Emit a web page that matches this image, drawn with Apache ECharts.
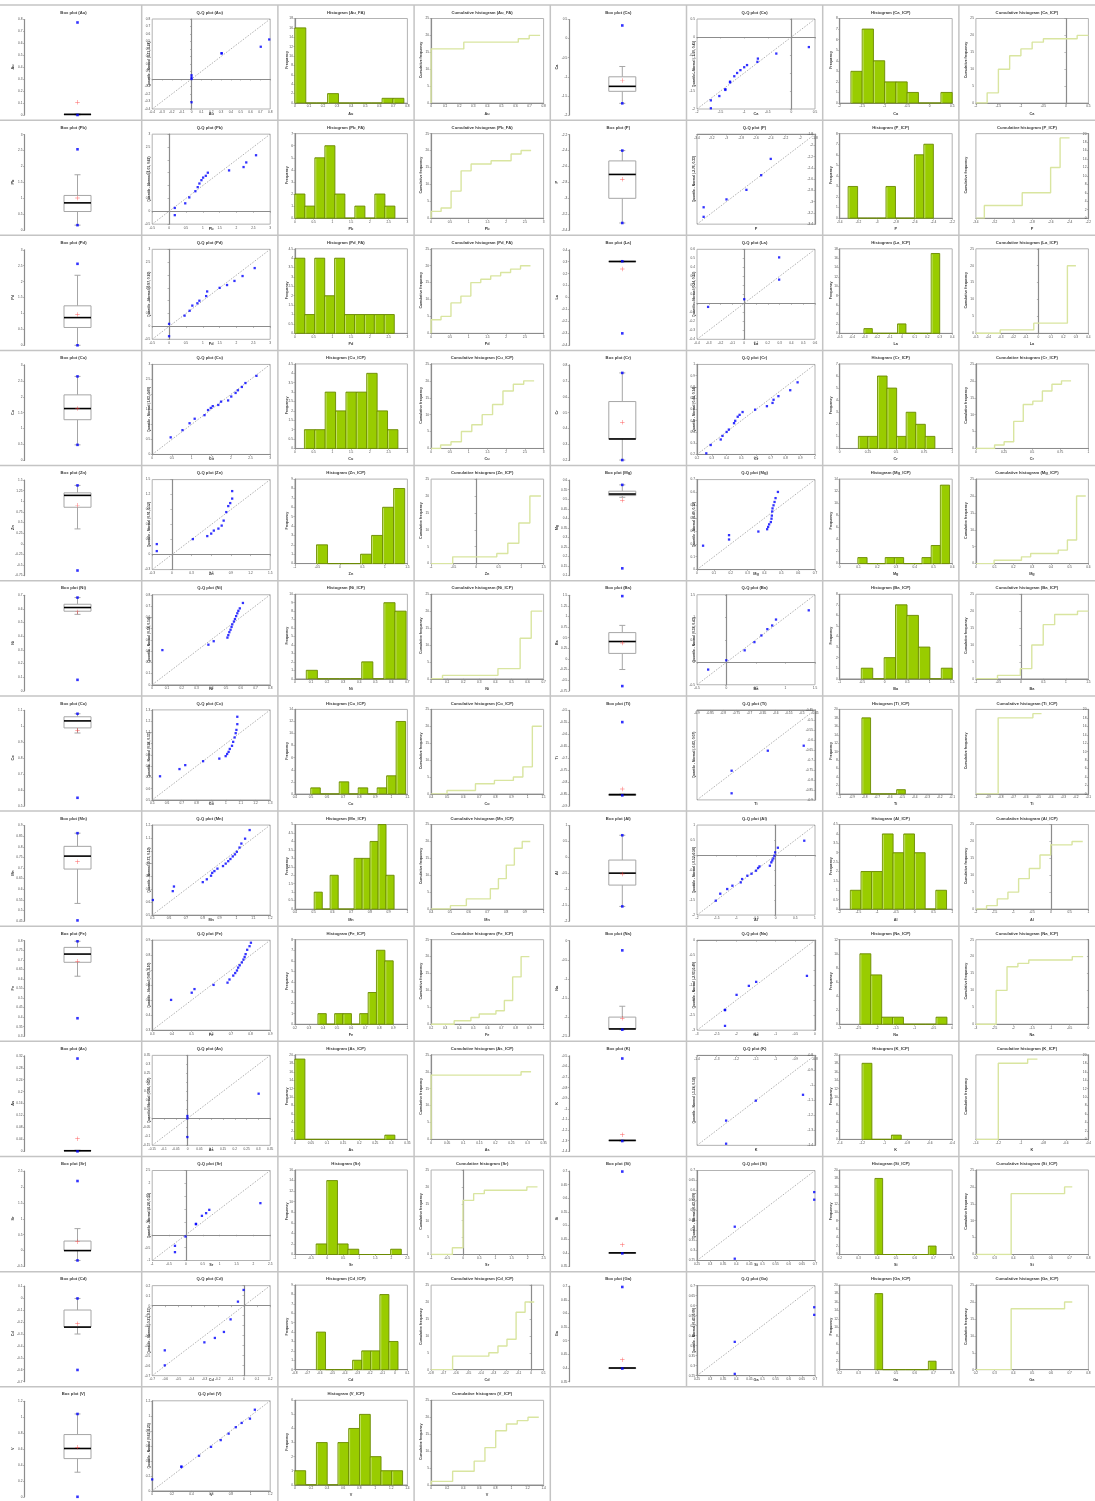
<!DOCTYPE html>
<html><head><meta charset="utf-8">
<script src="https://cdn.jsdelivr.net/npm/echarts@6/dist/echarts.min.js"></script>
<style>html,body{margin:0;padding:0;background:#fff}#c{width:1095px;height:1501px}</style>
</head><body><div id="c"></div>
<script>
const elements = ['Au','Ca','Pb','P','Pd','La','Cu','Cr','Zn','Mg','Ni','Ba','Co','Ti','Mn','Al','Fe','Na','As','K','Sr','Si','Cd','Ga','V'];
const histNames = ['Au_FA','Ca_ICP','Pb_FA','P_ICP','Pd_FA','La_ICP','Cu_ICP','Cr_ICP','Zn_ICP','Mg_ICP','Ni_ICP','Ba_ICP','Co_ICP','Ti_ICP','Mn_ICP','Al_ICP','Fe_ICP','Na_ICP','As_ICP','K_ICP','Sr','Si_ICP','Cd_ICP','Ga_ICP','V_ICP'];
const normalParams = [[0.11,0.24],[-1.10,0.45],[1.01,0.67],[-2.76,0.33],[0.97,0.70],[0.24,0.15],[1.63,0.60],[0.44,0.14],[0.91,0.52],[0.49,0.12],[0.58,0.14],[0.38,0.43],[0.98,0.13],[-0.83,0.07],[0.73,0.10],[-0.52,0.56],[0.69,0.10],[-2.03,0.49],[0.04,0.07],[-1.24,0.18],[0.28,0.55],[0.43,0.09],[-0.21,0.15],[0.43,0.09],[0.62,0.25]];

// box plot axis [min,max,interval]
const boxAxis = [[0,0.8,0.1],[-2,0.5,0.5],[0,3,0.5],[-3.4,-2.2,0.2],[0,3,0.5],[-0.4,0.4,0.1],[0,3,0.5],[0.2,0.8,0.1],[-0.75,1.5,0.25],[0.1,0.6,0.05],[0,0.7,0.1],[-0.75,1.5,0.25],[0.5,1.1,0.1],[-0.9,-0.5,0.05],[0.45,0.9,0.05],[-2,1,0.5],[0.3,0.8,0.05],[-2.5,0,0.5],[0,0.32,0.04],[-1.4,-0.5,0.1],[-0.5,2.5,0.5],[0.35,0.7,0.05],[-0.7,0.1,0.1],[0.35,0.7,0.05],[0,1.2,0.2]];
// [lower whisker, q1, median, q3, upper whisker]
const boxStats = [[0,0.003,0.005,0.007,0.01],[-1.695,-1.38,-1.25,-1.0,-0.73],[0.157,0.585,0.857,1.09,1.74],[-3.31,-3.0,-2.70,-2.53,-2.4],[0,0.56,0.87,1.24,2.2],[0.3,0.3,0.302,0.304,0.304],[0.49,1.28,1.63,2.06,2.64],[0.2025,0.335,0.335,0.57,0.75],[0.35,0.86,1.14,1.2,1.375],[0.51,0.519,0.527,0.542,0.575],[0.56,0.583,0.61,0.634,0.683],[-0.25,0.13,0.41,0.62,0.79],[0.958,0.99,1.034,1.06,1.079],[-0.856,-0.856,-0.853,-0.85,-0.85],[0.533,0.695,0.756,0.802,0.864],[-1.54,-0.87,-0.495,-0.084,0.695],[0.614,0.687,0.73,0.765,0.797],[-2.33,-2.31,-2.31,-2.0,-1.716],[0,0.001,0.002,0.003,0.004],[-1.303,-1.3,-1.297,-1.295,-1.295],[-0.31,0.0,0.0,0.3,0.69],[0.398,0.398,0.4,0.401,0.401],[-0.301,-0.243,-0.243,-0.1,-0.003],[0.398,0.398,0.4,0.401,0.401],[0.309,0.48,0.607,0.782,1.041]];
const boxMean = [0.106,-1.1,1.01,-2.76,0.97,0.24,1.63,0.44,0.91,0.494,0.578,0.375,0.975,-0.829,0.729,-0.52,0.692,-2.03,0.042,-1.244,0.28,0.43,-0.215,0.43,0.623];
const boxMinMax = [[0,0.775],[-1.695,0.344],[0.157,2.54],[-3.31,-2.4],[0,2.56],[-0.30,0.304],[0.49,2.64],[0.2025,0.75],[-0.63,1.375],[0.138,0.575],[0.08,0.683],[-0.64,1.48],[0.551,1.079],[-0.856,-0.549],[0.453,0.864],[-1.54,0.695],[0.394,0.797],[-2.33,-0.253],[0,0.311],[-1.303,-0.525],[-0.31,2.185],[0.398,0.698],[-0.602,-0.003],[0.398,0.697],[0,1.041]];

// Q-Q plot axis [min,max,interval] (same on both axes)
const qqAxis = [[-0.4,0.8,0.1],[-2,0.5,0.5],[-0.5,3,0.5],[-3.4,-1.8,0.2],[-0.5,3,0.5],[-0.4,0.6,0.1],[0,3,0.5],[0.2,1.0,0.1],[-0.3,1.5,0.3],[0,0.7,0.1],[0,0.8,0.1],[-0.5,1.5,0.5],[0.5,1.3,0.1],[-0.9,-0.45,0.05],[0.5,1.2,0.1],[-2,1,0.5],[0.3,0.9,0.1],[-3,0,0.5],[-0.15,0.35,0.05],[-1.4,-0.8,0.1],[-1,2.5,0.5],[0.25,0.7,0.05],[-0.7,0.2,0.1],[0.25,0.7,0.05],[0,1.2,0.2]];
const qqPoints = [
 [[0,0.0],[0,0.02],[0,0.05],[0,-0.31],[0.306,0.345],[0.306,0.34],[0.704,0.43],[0.79,0.527]],
 [[-1.706,-1.98],[-1.706,-1.76],[-1.527,-1.64],[-1.40,-1.47],[-1.40,-1.45],[-1.30,-1.26],[-1.30,-1.24],[-1.21,-1.09],[-1.15,-1.0],[-1.08,-0.92],[-1.0,-0.84],[-0.94,-0.78],[-0.72,-0.69],[-0.71,-0.60],[-0.32,-0.46],[0.37,-0.28]],
 [[0.17,-0.15],[0.17,0.13],[0.48,0.31],[0.6,0.54],[0.78,0.78],[0.85,0.94],[0.9,1.08],[0.96,1.21],[1.01,1.31],[1.09,1.38],[1.15,1.5],[1.78,1.59],[2.21,1.72],[2.29,1.9],[2.58,2.18]],
 [[-3.31,-3.27],[-3.31,-3.10],[-3.0,-2.96],[-2.73,-2.79],[-2.53,-2.53],[-2.40,-2.24]],
 [[0,-0.38],[0,0.1],[0.46,0.42],[0.61,0.61],[0.69,0.81],[0.84,0.9],[0.9,1.0],[1.1,1.18],[1.13,1.36],[1.5,1.5],[1.72,1.61],[1.94,1.77],[2.18,1.96],[2.54,2.27]],
 [[-0.306,-0.04],[0,0.045],[0.296,0.263],[0.296,0.51]],
 [[0.47,0.57],[0.77,0.81],[0.95,1.04],[1.08,1.19],[1.33,1.31],[1.42,1.48],[1.49,1.55],[1.54,1.61],[1.68,1.65],[1.75,1.76],[1.93,1.8],[2.01,1.93],[2.12,2.05],[2.18,2.14],[2.28,2.25],[2.37,2.38],[2.65,2.62]],
 [[0.263,0.21],[0.293,0.284],[0.361,0.333],[0.373,0.365],[0.401,0.4],[0.416,0.421],[0.451,0.478],[0.459,0.499],[0.476,0.535],[0.489,0.552],[0.509,0.577],[0.594,0.598],[0.674,0.629],[0.712,0.658],[0.719,0.686],[0.752,0.718],[0.832,0.771],[0.882,0.841]],
 [[-0.23,0.21],[-0.23,0.07],[0.32,0.31],[0.54,0.37],[0.6,0.42],[0.64,0.48],[0.71,0.52],[0.76,0.58],[0.79,0.68],[0.83,0.85],[0.86,0.97],[0.89,1.03],[0.92,1.12],[0.92,1.27]],
 [[0.036,0.186],[0.19,0.268],[0.19,0.234],[0.364,0.296],[0.416,0.314],[0.422,0.332],[0.428,0.352],[0.438,0.37],[0.442,0.396],[0.444,0.42],[0.446,0.452],[0.448,0.476],[0.454,0.5],[0.46,0.526],[0.466,0.556],[0.48,0.604]],
 [[0.069,0.308],[0.381,0.356],[0.417,0.387],[0.51,0.419],[0.516,0.441],[0.523,0.467],[0.531,0.489],[0.538,0.514],[0.543,0.537],[0.554,0.562],[0.561,0.584],[0.569,0.61],[0.577,0.635],[0.584,0.657],[0.594,0.679],[0.615,0.727]],
 [[-0.311,-0.163],[-0.004,0.043],[0.308,0.265],[0.473,0.447],[0.591,0.595],[0.692,0.735],[0.774,0.817],[0.839,0.949],[1.394,1.154]],
 [[0.553,0.71],[0.685,0.774],[0.724,0.809],[0.845,0.844],[0.955,0.867],[0.998,0.889],[1.008,0.908],[1.018,0.927],[1.026,0.953],[1.041,0.981],[1.049,1.016],[1.059,1.055],[1.066,1.093],[1.071,1.122],[1.077,1.173],[1.077,1.239]],
 [[-0.768,-0.867],[-0.768,-0.754],[-0.63,-0.654],[-0.493,-0.629]],
 [[0.504,0.617],[0.622,0.686],[0.629,0.722],[0.8,0.756],[0.824,0.778],[0.849,0.806],[0.856,0.828],[0.869,0.842],[0.887,0.861],[0.92,0.881],[0.936,0.9],[0.951,0.919],[0.964,0.936],[0.978,0.956],[0.991,0.972],[1.002,0.992],[1.018,1.025],[1.029,1.056],[1.051,1.094],[1.078,1.161]],
 [[-1.523,-1.522],[-1.409,-1.289],[-1.232,-1.133],[-1.1,-1.022],[-0.888,-0.911],[-0.853,-0.8],[-0.72,-0.689],[-0.614,-0.622],[-0.5,-0.522],[-0.447,-0.433],[-0.411,-0.378],[-0.147,-0.356],[-0.111,-0.244],[-0.085,-0.178],[-0.058,-0.111],[-0.032,-0.022],[-0.014,0.089],[0.056,0.244],[0.727,0.478]],
 [[0.396,0.502],[0.501,0.55],[0.515,0.574],[0.612,0.602],[0.683,0.617],[0.693,0.638],[0.712,0.664],[0.722,0.681],[0.731,0.698],[0.737,0.717],[0.745,0.733],[0.756,0.752],[0.764,0.771],[0.77,0.788],[0.775,0.807],[0.783,0.836],[0.795,0.86],[0.802,0.883]],
 [[-2.288,-2.856],[-2.288,-2.333],[-2.288,-2.32],[-1.994,-1.822],[-1.682,-1.522],[-1.496,-1.389],[-0.205,-1.189]],
 [[-0.001,0.013],[-0.001,0.0],[-0.001,-0.104],[0.301,0.137]],
 [[-1.252,-1.389],[-1.252,-1.235],[-1.101,-1.102],[-0.861,-1.063]],
 [[-0.325,-0.43],[-0.325,-0.676],[-0.013,-0.067],[0.298,0.426],[0.298,0.41],[0.475,0.737],[0.599,0.841],[0.693,0.97],[2.209,1.23]],
 [[0.394,0.419],[0.394,0.259],[0.697,0.592],[0.697,0.554]],
 [[-0.604,-0.597],[-0.604,-0.447],[-0.302,-0.367],[-0.222,-0.323],[-0.153,-0.263],[-0.102,-0.137],[-0.046,0.04],[-0.003,0.157]],
 [[0.394,0.419],[0.394,0.259],[0.697,0.592],[0.697,0.554]],
 [[0.0,0.152],[0.297,0.324],[0.297,0.318],[0.476,0.467],[0.598,0.586],[0.697,0.676],[0.777,0.762],[0.85,0.848],[0.91,0.905],[0.994,0.962],[1.044,1.081]]
];

// histogram / cumulative x axis [min,max,interval]
const histAxis = [[0,0.8,0.1],[-2,0.5,0.5],[0,3,0.5],[-3.4,-2.2,0.2],[0,3,0.5],[-0.5,0.4,0.1],[0,3,0.5],[0,1,0.25],[-1,1.5,0.5],[0,0.6,0.1],[0,0.7,0.1],[-1,1.5,0.5],[0.4,1.1,0.1],[-1,-0.1,0.1],[0.4,1.0,0.1],[-2,1,0.5],[0.2,1.0,0.1],[-3,0,0.5],[0,0.35,0.05],[-1.4,-0.4,0.2],[-1,2.5,0.5],[0.2,0.8,0.1],[-0.8,0.1,0.1],[0.2,0.8,0.1],[0,1.4,0.2]];
// histogram frequency axis [max, interval]
const histYAxis = [[18,2],[8,1],[7,1],[8,1],[4.5,0.5],[18,2],[4.5,0.5],[7,1],[9,1],[14,2],[10,1],[8,1],[14,2],[20,2],[5,0.5],[4.5,0.5],[8,1],[12,2],[20,2],[20,2],[16,2],[20,2],[9,1],[20,2],[6,1]];
// cumulative frequency axis [max, interval]
const cumYAxis = [[25,5],[25,5],[25,5],[20,2],[25,5],[25,5],[25,5],[25,5],[25,5],[25,5],[25,5],[25,5],[25,5],[20,2],[25,5],[25,5],[25,5],[25,5],[25,5],[20,2],[25,5],[25,5],[25,5],[25,5],[25,5]];
const histEdges = [
 [0,0.0775,0.155,0.2325,0.31,0.3875,0.465,0.5425,0.62,0.6975,0.775],
 [-1.75,-1.5,-1.25,-1,-0.75,-0.5,-0.25,0,0.25,0.5],
 [0,0.267,0.533,0.8,1.067,1.333,1.6,1.867,2.133,2.4,2.667],
 [-3.31,-3.209,-3.108,-3.007,-2.906,-2.805,-2.704,-2.603,-2.502,-2.401],
 [0,0.265,0.53,0.795,1.06,1.325,1.59,1.855,2.12,2.385,2.65],
 [-0.306,-0.239,-0.172,-0.104,-0.037,0.030,0.098,0.165,0.232,0.3],
 [0.254,0.531,0.808,1.085,1.362,1.639,1.916,2.193,2.47,2.747],
 [0.166,0.251,0.336,0.421,0.506,0.591,0.676,0.761,0.846],
 [-0.52,-0.275,-0.03,0.215,0.46,0.705,0.95,1.195,1.44],
 [0.097,0.146,0.195,0.243,0.292,0.341,0.390,0.439,0.488,0.537,0.586],
 [0.071,0.14,0.209,0.278,0.347,0.416,0.485,0.554,0.623,0.692],
 [-0.52,-0.266,-0.012,0.242,0.496,0.75,1.004,1.258,1.5],
 [0.499,0.558,0.617,0.676,0.735,0.794,0.853,0.912,0.971,1.03,1.089],
 [-0.822,-0.753,-0.683,-0.614,-0.544,-0.475],
 [0.503,0.546,0.588,0.631,0.673,0.716,0.759,0.801,0.844,0.886,0.929],
 [-1.716,-1.431,-1.146,-0.861,-0.576,-0.291,-0.006,0.279,0.564,0.849],
 [0.364,0.423,0.483,0.542,0.602,0.661,0.721,0.780,0.840,0.899],
 [-2.46,-2.17,-1.88,-1.59,-1.30,-1.01,-0.72,-0.43,-0.14],
 [0,0.0311,0.0622,0.0933,0.1244,0.1555,0.1866,0.2177,0.2488,0.2799,0.311],
 [-1.201,-1.114,-1.027,-0.940,-0.853],
 [-0.338,-0.007,0.324,0.655,0.986,1.317,1.648,1.979,2.31],
 [0.388,0.429,0.469,0.510,0.551,0.592,0.632,0.673,0.714],
 [-0.628,-0.555,-0.483,-0.41,-0.338,-0.265,-0.193,-0.12,-0.048,0.025],
 [0.388,0.429,0.469,0.510,0.551,0.592,0.632,0.673,0.714],
 [0,0.134,0.268,0.402,0.536,0.67,0.804,0.938,1.072,1.206,1.34]
];
const histCounts = [
 [16,0,0,2,0,0,0,0,1,1],[3,7,4,2,2,1,0,0,1],[2,1,5,6,2,0,1,0,2,1],[3,0,0,0,3,0,0,6,7],[4,1,4,2,4,1,1,1,1,1],
 [1,0,0,0,2,0,0,0,17],[1,1,3,2,3,3,4,2,1],[1,1,6,5,1,3,2,1],[2,0,0,0,1,3,6,8],[1,0,0,1,1,0,0,1,3,13],
 [1,0,0,0,0,2,0,9,8],[1,0,2,7,6,3,0,1],[1,0,0,2,0,1,0,1,3,12],[18,0,0,0,1],[1,0,2,0,0,3,3,4,5,2],
 [1,2,2,4,3,4,3,0,1],[1,0,1,1,0,1,3,7,6],[10,7,1,1,0,0,0,1],[19,0,0,0,0,0,0,0,0,1],[18,0,0,1],
 [2,14,2,1,0,0,0,1],[18,0,0,0,0,0,0,2],[4,0,0,0,1,2,2,8,3],[18,0,0,0,0,0,0,2],[1,0,3,0,3,4,5,2,1,1]
];
const cumCounts = [
 [16,16,16,18,18,18,18,18,19,20],[3,10,14,16,18,19,19,19,20],[2,3,8,14,16,16,17,17,19,20],[3,3,3,3,6,6,6,12,19],[4,5,9,11,15,16,17,18,19,20],
 [1,1,1,1,3,3,3,3,20],[1,2,5,7,10,13,17,19,20],[1,2,8,13,14,17,19,20],[2,2,2,2,3,6,12,20],[1,1,1,2,3,3,3,4,7,20],
 [1,1,1,1,1,3,3,12,20],[1,1,3,10,16,19,19,20],[1,1,1,3,3,4,4,5,8,20],[18,18,18,18,19],[1,1,3,3,3,6,9,13,18,20],
 [1,3,5,9,12,16,19,19,20],[1,1,2,3,3,4,7,14,20],[10,17,18,19,19,19,19,20],[19,19,19,19,19,19,19,19,19,20],[18,18,18,19],
 [2,16,18,19,19,19,19,20],[18,18,18,18,18,18,18,20],[4,4,4,4,5,7,9,17,20],[18,18,18,18,18,18,18,20],[1,1,4,4,7,11,16,18,19,20]
];

// ---------- layout & drawing ----------
const X0 = 5.5, COLW = 136.2, Y0 = 5, ROWH = 115.15;
const FONT = 'Liberation Sans';
const AXC = '#8c8c8c';
const chart = echarts.init(document.getElementById('c'), null, {renderer:'canvas', width:1095, height:1501});
const option = {animation:false, backgroundColor:'#ffffff', grid:[], xAxis:[], yAxis:[], series:[], graphic:{elements:[]}};
const G = option.graphic.elements;

function txt(x, y, s, size, bold, rot, color){
  G.push({type:'text', x:x, y:y, rotation: rot ? Math.PI/2 : 0, silent:true, z:100,
    style:{text:s, fontSize:size, fontFamily:FONT, fontWeight: bold ? 'bold' : 'normal', fill: color || '#3a3a3a', align:'center', verticalAlign:'middle'}});
}
function sep(x1, y1, x2, y2){
  G.push({type:'line', silent:true, z:1, shape:{x1:x1,y1:y1,x2:x2,y2:y2}, style:{stroke:'#c4c4c4', lineWidth:1.5}});
}
function valAxis(gi, rng, dim, other, noZero){
  const neg = !!other && other[1] < 0;
  return {type:'value', gridIndex:gi, min:rng[0], max:rng[1], interval:rng[2],
    position: neg ? (dim === 'x' ? 'top' : 'right') : (dim === 'x' ? 'bottom' : 'left'),
    axisLine:{show:true, onZero: !noZero && !!other, lineStyle:{color:AXC, width:1.2}},
    axisTick:{show:true, length:1.5, inside:neg, lineStyle:{color:AXC, width:0.6}},
    axisLabel:{show:true, inside:neg, fontSize:3.2, margin:2, color:'#4d4d4d', fontFamily:FONT, showMinLabel:true, showMaxLabel:true, hideOverlap:false},
    splitLine:{show:false}, splitArea:{show:false}};
}
function renderBox(params, api){
  const x = api.coord([0, api.value(1)])[0];
  const y = k => api.coord([0, api.value(k)])[1];
  const lw = y(1), q1 = y(2), md = y(3), q3 = y(4), uw = y(5);
  const hw = 13.5, cap = 3;
  const gray = {stroke:'#a6a6a6', lineWidth:1};
  return {type:'group', children:[
    {type:'line', shape:{x1:x, y1:q3, x2:x, y2:uw}, style:gray},
    {type:'line', shape:{x1:x, y1:q1, x2:x, y2:lw}, style:gray},
    {type:'line', shape:{x1:x-cap, y1:uw, x2:x+cap, y2:uw}, style:gray},
    {type:'line', shape:{x1:x-cap, y1:lw, x2:x+cap, y2:lw}, style:gray},
    {type:'rect', shape:{x:x-hw, y:q3, width:2*hw, height:Math.max(q1-q3, 0)}, style:{fill:'#ffffff', stroke:'#a6a6a6', lineWidth:1}},
    {type:'line', shape:{x1:x-hw, y1:md, x2:x+hw, y2:md}, style:{stroke:'#000000', lineWidth:1.6}}
  ]};
}
function renderBar(params, api){
  const a = api.coord([api.value(0), api.value(2)]);
  const b = api.coord([api.value(1), 0]);
  const x = a[0], yy = a[1], w = b[0]-a[0], h = b[1]-a[1];
  const ch = [{type:'rect', shape:{x:x, y:yy, width:w, height:h}, style:{fill:'#99cc00', stroke:'#6b8a00', lineWidth:0.9}}];
  if (h > 1.5) ch.push({type:'line', shape:{x1:x+0.9, y1:yy+0.9, x2:x+0.9, y2:yy+h}, style:{stroke:'#d2eb8e', lineWidth:0.7}});
  return {type:'group', children:ch};
}
const PLUS = 'path://M0,4.5H10V5.5H0ZM4.5,0H5.5V10H4.5Z';

elements.forEach((el, i) => {
  const row = Math.floor(i / 2), half = i % 2, rt = Y0 + row * ROWH;
  const cl = p => X0 + (half * 4 + p) * COLW;
  let c, gi;

  // ---- Box plot ----
  c = cl(0); gi = option.grid.length;
  option.grid.push({left:c+19, top:rt+14.5, width:106, height:95.5, show:false, containLabel:false, outerBoundsMode:'none'});
  option.xAxis.push({type:'category', gridIndex:gi, data:[''], show:false});
  option.yAxis.push(valAxis(gi, boxAxis[i], 'y', null, true));
  option.series.push({type:'custom', xAxisIndex:gi, yAxisIndex:gi, silent:true, data:[[0].concat(boxStats[i])], renderItem:renderBox, z:2});
  option.series.push({type:'scatter', xAxisIndex:gi, yAxisIndex:gi, silent:true, symbol:'rect', symbolSize:2.6, itemStyle:{color:'#0000ff'}, data:boxMinMax[i].map(v => [0, v]), z:4});
  option.series.push({type:'scatter', xAxisIndex:gi, yAxisIndex:gi, silent:true, symbol:PLUS, symbolSize:4.5, itemStyle:{color:'#ff3333'}, data:[[0, boxMean[i]]], z:5});
  txt(c+68, rt+7.5, 'Box plot (' + el + ')', 4.2, true);
  txt(c+7, rt+62, el, 3.8, true, true);

  // ---- Q-Q plot ----
  c = cl(1); gi = option.grid.length;
  const q = qqAxis[i];
  option.grid.push({left:c+10.5, top:rt+14, width:118, height:90, show:true, borderColor:'#b3b3b3', borderWidth:1, containLabel:false, outerBoundsMode:'none'});
  option.xAxis.push(valAxis(gi, q, 'x', q));
  option.yAxis.push(valAxis(gi, q, 'y', q));
  option.series.push({type:'line', xAxisIndex:gi, yAxisIndex:gi, silent:true, symbol:'none', data:[[q[0], q[0]], [q[1], q[1]]], lineStyle:{color:'#9a9a9a', width:0.8, type:[1.5,1.5]}, z:2});
  option.series.push({type:'scatter', xAxisIndex:gi, yAxisIndex:gi, silent:true, symbol:'rect', symbolSize:2.3, itemStyle:{color:'#0000ff'}, data:qqPoints[i], z:4});
  txt(c+68, rt+7.5, 'Q-Q plot (' + el + ')', 4.2, true);
  txt(c+69.5, rt+108.5, el, 3.8, true);
  txt(c+7.5, rt+59, 'Quantile - Normal (' + normalParams[i][0].toFixed(2) + ', ' + normalParams[i][1].toFixed(2) + ')', 3.3, true, true);

  // ---- Histogram ----
  c = cl(2); gi = option.grid.length;
  const h = histAxis[i], hy = histYAxis[i];
  option.grid.push({left:c+17, top:rt+13.5, width:112.5, height:84.5, show:true, borderColor:'#b3b3b3', borderWidth:1, containLabel:false, outerBoundsMode:'none'});
  option.xAxis.push(valAxis(gi, h, 'x', [0, hy[0]]));
  option.yAxis.push(valAxis(gi, [0, hy[0], hy[1]], 'y', null, true));
  const hd = histCounts[i].map((n, k) => [histEdges[i][k], histEdges[i][k+1], n]);
  option.series.push({type:'custom', xAxisIndex:gi, yAxisIndex:gi, silent:true, encode:{x:[0,1], y:2}, data:hd, renderItem:renderBar, z:2});
  txt(c+68, rt+7.5, 'Histogram (' + histNames[i] + ')', 4.2, true);
  txt(c+73, rt+108.5, el, 3.8, true);
  txt(c+8.8, rt+55, 'Frequency', 3.5, true, true);

  // ---- Cumulative histogram ----
  c = cl(3); gi = option.grid.length;
  const cy = cumYAxis[i];
  option.grid.push({left:c+17, top:rt+13.5, width:112.5, height:84.5, show:true, borderColor:'#b3b3b3', borderWidth:1, containLabel:false, outerBoundsMode:'none'});
  option.xAxis.push(valAxis(gi, h, 'x', [0, cy[0]]));
  option.yAxis.push(valAxis(gi, [0, cy[0], cy[1]], 'y', h));
  const ed = histEdges[i], cc = cumCounts[i];
  const cd = [[h[0], 0]];
  cc.forEach((v, k) => cd.push([ed[k], v]));
  cd.push([ed[ed.length-1], cc[cc.length-1]]);
  option.series.push({type:'line', xAxisIndex:gi, yAxisIndex:gi, silent:true, step:'end', symbol:'none', data:cd, lineStyle:{color:'#d9e5a0', width:1.4}, z:3});
  txt(c+68, rt+7.5, 'Cumulative histogram (' + histNames[i] + ')', 4.2, true);
  txt(c+73, rt+108.5, el, 3.8, true);
  txt(c+6.8, rt+55, 'Cumulative frequency', 3.5, true, true);
});

// panel separators
for (let k = 0; k <= 12; k++) { const y = Y0 + k * ROWH; sep(0, y, 1095, y); }
for (let k = 1; k <= 7; k++) { const x = X0 + k * COLW; sep(x, Y0, x, k <= 4 ? 1501 : Y0 + 12 * ROWH); }

chart.setOption(option);
</script>
</body></html>
